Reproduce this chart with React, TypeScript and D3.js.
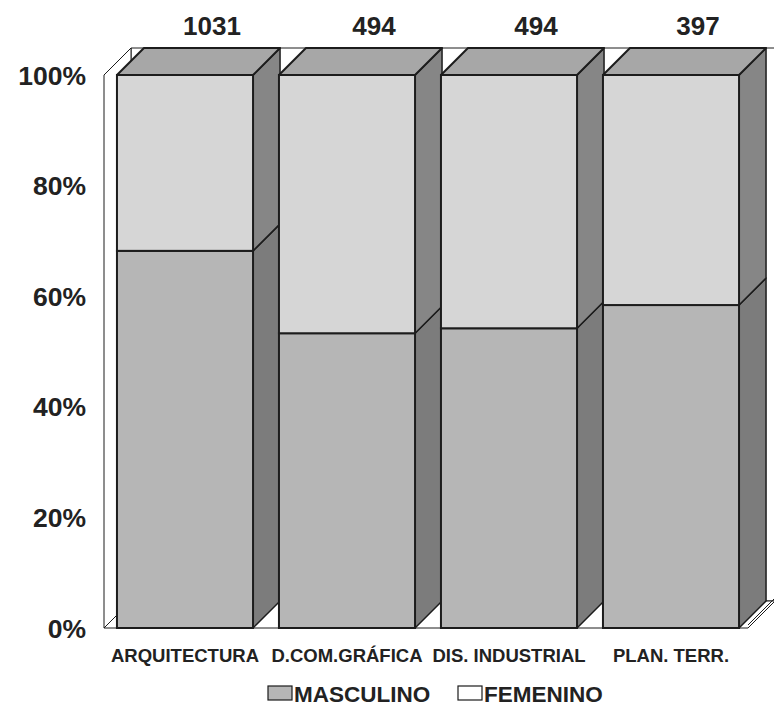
import React from 'react';
import * as d3 from 'd3';

// carreras y totales
const categories = ['ARQUITECTURA', 'D.COM.GRÁFICA', 'DIS. INDUSTRIAL', 'PLAN. TERR.'];
const totals = [1031, 494, 494, 397];
// porcentaje por sexo
const masculino = [68.2, 53.3, 54.2, 58.4];
const femenino = [31.8, 46.7, 45.8, 41.6];
const yTicks = [0, 20, 40, 60, 80, 100];
const seriesNames = ['MASCULINO', 'FEMENINO'];

const W = 774;
const H = 708;
const depth = 27;
const font = '"Liberation Sans", Arial, sans-serif';

const frontColor = ['#b6b6b6', '#d6d6d6'];
const sideColor = ['#7c7c7c', '#868686'];
const topColor = '#a7a7a7';
const ink = '#1c1c1c';

const App = () => {
  const x = d3.scaleBand<string>()
    .domain(categories)
    .range([104, 752])
    .paddingInner(0.16)
    .paddingOuter(0.08);
  const y = d3.scaleLinear().domain([0, 100]).range([628, 75]);

  const rows = categories.map((c, i) => ({ cat: c, MASCULINO: masculino[i], FEMENINO: femenino[i] }));
  const stacked = d3.stack<any>().keys(seriesNames)(rows);

  const left = 104;
  const right = 748;
  const bottom = y(0);
  const top = y(100);

  const pts = (p: number[][]) => p.map(d => d.join(',')).join(' ');

  return (
    <svg width={W} height={H} style={{ position: 'absolute', left: 0, top: 0, background: '#fff' }}>
      {/* paredes y piso */}
      <polygon points={pts([[left + depth, top - depth], [right + depth, top - depth], [right + depth, bottom - depth], [left + depth, bottom - depth]])}
        fill="#fff" stroke={ink} strokeWidth={1} />
      <polygon points={pts([[left, top], [left + depth, top - depth], [left + depth, bottom - depth], [left, bottom]])}
        fill="#fff" stroke={ink} strokeWidth={1} />
      <polygon points={pts([[left, bottom], [right, bottom], [right + depth, bottom - depth], [left + depth, bottom - depth]])}
        fill="#fff" stroke={ink} strokeWidth={1} />
      <line x1={right} y1={bottom - 3} x2={right + depth} y2={bottom - depth - 3} stroke={ink} strokeWidth={1} />

      {/* barras 3D */}
      {categories.map((c, i) => {
        const x0 = x(c)!;
        const bw = x.bandwidth();
        return (
          <g key={c}>
            {stacked.map((s, k) => {
              const yb = y(s[i][0]);
              const yt = y(s[i][1]);
              const isTop = k === stacked.length - 1;
              return (
                <g key={s.key}>
                  <polygon points={pts([[x0 + bw, yt], [x0 + bw + depth, yt - depth], [x0 + bw + depth, yb - depth], [x0 + bw, yb]])}
                    fill={sideColor[k]} stroke={ink} strokeWidth={1.5} strokeLinejoin="round" />
                  {isTop && (
                    <polygon points={pts([[x0, yt], [x0 + depth, yt - depth], [x0 + bw + depth, yt - depth], [x0 + bw, yt]])}
                      fill={topColor} stroke={ink} strokeWidth={2} strokeLinejoin="round" />
                  )}
                  <rect x={x0} y={yt} width={bw} height={yb - yt}
                    fill={frontColor[k]} stroke={ink} strokeWidth={2} />
                </g>
              );
            })}
            <text x={x0 + bw / 2 + depth} y={35} textAnchor="middle" fontFamily={font}
              fontWeight="bold" fontSize={26} fill="#222">{totals[i]}</text>
            <text x={x0 + bw / 2} y={662} textAnchor="middle" fontFamily={font}
              fontWeight="bold" fontSize={18.5} fill="#222">{c}</text>
          </g>
        );
      })}

      {/* eje y */}
      {yTicks.map(t => (
        <text key={t} x={86} y={y(t) + 9.5} textAnchor="end" fontFamily={font}
          fontWeight="bold" fontSize={26.5} fill="#222">{t}%</text>
      ))}

      {/* leyenda */}
      <rect x={268} y={686} width={24} height={14} fill={frontColor[0]} stroke={ink} strokeWidth={1.2} />
      <text x={294} y={702} fontFamily={font} fontWeight="bold" fontSize={22.5} fill="#222">{seriesNames[0]}</text>
      <rect x={458} y={686} width={24} height={14} fill="#fff" stroke={ink} strokeWidth={1.2} />
      <text x={484} y={702} fontFamily={font} fontWeight="bold" fontSize={22.5} fill="#222">{seriesNames[1]}</text>
    </svg>
  );
};

export default App;
